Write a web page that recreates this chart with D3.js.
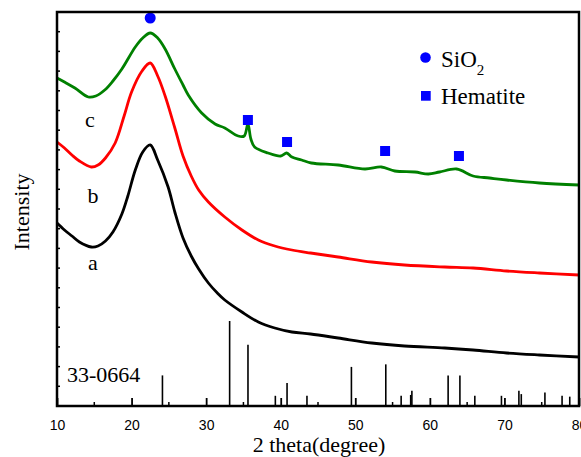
<!DOCTYPE html>
<html lang="en">
<head>
<meta charset="UTF-8">
<title>XRD</title>
<script src="https://d3js.org/d3.v7.min.js"></script>
<style>
  body { margin: 0; background: #fff; }
  svg { display: block; }
  .serif { font-family: "Liberation Serif", "Tinos", "Times New Roman", Times, "DejaVu Serif", serif; }
  .sans { font-family: "Liberation Sans", Arimo, Arial, sans-serif; }
</style>
</head>
<body>
<div id="chart"></div>
<script>
// 2theta (degree), intensity (a.u.)
var curveA = [
  [10,183],[11,176],[12,170],[13,164],[14.6,159],[15.5,160],[16.5,165],[17.5,174],
  [18.7,192],[19.5,210],[20.5,236],[21.5,254],[22.5,261],[23.5,246],[24.9,219],
  [25.8,194],[26.9,168],[28,150],[29,137],[30.3,123],[31.5,113],[32.5,106],
  [34.8,94],[37,84],[39.2,78],[41.5,74],[44,72],[47.7,68],[52.2,63],[56.6,60],
  [62,58],[65.8,56],[70.3,53],[74.7,51],[80,49]
];
var curveB = [
  [10,264],[11,258],[12,251],[13,245],[14.6,239],[15.5,241],[16.5,248],[17.8,263],
  [19,290],[20,314],[21.4,335],[22.5,343],[23.5,330],[24.5,310],[25.8,278],
  [26.9,250],[28,230],[29,216],[30.3,204],[32.5,189],[34.8,176],[37,166],
  [39.2,160],[41.5,156],[44,153],[47.7,149],[52.2,144],[56.6,141],[62,139],
  [65.8,138],[70.3,135],[74.7,133],[80,131]
];
var curveC = [
  [10,328],[11,324],[12.4,318],[14.2,309],[15.2,310],[16.4,316],[17.5,325],[18.7,337],
  [20.5,359],[21.5,368],[22.5,373],[23.5,368],[24.5,357],[25.8,337],[26.9,321],
  [27.6,311],[29.4,293],[31.2,282],[32.5,278],[34.3,270],[35.1,270],[35.6,282],
  [36,267],[36.5,259],[38.3,253],[40,250],[40.8,253],[41.5,249],[42.8,246],
  [44.1,243],[47.7,241],[51.3,237],[53.5,239],[55.3,235],[58,234],[59.8,232],
  [61.3,234],[63.6,237],[65.8,230],[68,228],[70.3,226],[74.7,223],[80,221]
];
var curveNames = ["a", "b", "c"];

// PDF 33-0664 (hematite) stick pattern
var refPos = [24.14,33.15,35.61,39.28,40.85,43.52,49.48,54.09,56.15,57.43,57.59,
              62.45,64.03,66.03,69.6,71.94,72.26,75.43,77.73,78.76];
var refInt = [36,100,72,12,27,12,46,49,12,13,18,36,36,12,12,18,14,16,12,11];

// peak markers on curve c
var sio2Peaks = [[22.5,388]];
var hematitePeaks = [[35.6,286],[40.85,264],[54.0,255],[63.9,250]];

var xTicks = [10,20,30,40,50,60,70,80];
var xMinor = [15,25,35,45,55,65,75];

var width = 581, height = 457;
var margin = {top:12, right:2, bottom:51, left:57};

var svg = d3.select("#chart").append("svg")
    .attr("width", width)
    .attr("height", height);

var x = d3.scaleLinear().domain([10,80]).range([margin.left, width - margin.right]);
var y = d3.scaleLinear().domain([0,394]).range([height - margin.bottom, margin.top]);
// sticks use their own relative scale
var yRef = d3.scaleLinear().domain([0,100]).range([height - margin.bottom, height - margin.bottom - 85]);

// reference sticks
svg.append("g")
    .selectAll("line")
    .data(refPos)
    .enter()
    .append("line")
    .attr("x1", function(d){ return x(d); })
    .attr("x2", function(d){ return x(d); })
    .attr("y1", yRef(0))
    .attr("y2", function(d,i){ return yRef(refInt[i]); })
    .attr("stroke", "#000")
    .attr("stroke-width", 1.6);

// the three patterns
var line = d3.line()
    .x(function(d){ return x(d[0]); })
    .y(function(d){ return y(d[1]); })
    .curve(d3.curveCatmullRom.alpha(0.5));

var curves = [curveA, curveB, curveC];
var colors = ["#000000", "#ff0000", "#008000"];
svg.append("g")
    .selectAll("path")
    .data(curves)
    .enter()
    .append("path")
    .attr("d", line)
    .attr("fill", "none")
    .attr("stroke", function(d,i){ return colors[i]; })
    .attr("stroke-width", 2.8)
    .attr("stroke-linejoin", "round");

// curve letters
var labelPos = [[93,270],[93,203],[90,127]];
svg.append("g")
    .selectAll("text")
    .data(curveNames)
    .enter()
    .append("text")
    .attr("class", "serif")
    .attr("x", function(d,i){ return labelPos[i][0]; })
    .attr("y", function(d,i){ return labelPos[i][1]; })
    .attr("text-anchor", "middle")
    .attr("font-size", 22)
    .text(function(d){ return d; });

svg.append("text")
    .attr("class", "serif")
    .attr("x", 67)
    .attr("y", 382)
    .attr("font-size", 22)
    .text("33-0664");

// markers
svg.append("g")
    .selectAll("circle")
    .data(sio2Peaks)
    .enter()
    .append("circle")
    .attr("cx", function(d){ return x(d[0]); })
    .attr("cy", function(d){ return y(d[1]); })
    .attr("r", 5.5)
    .attr("fill", "#0000ff");

svg.append("g")
    .selectAll("rect")
    .data(hematitePeaks)
    .enter()
    .append("rect")
    .attr("x", function(d){ return x(d[0]) - 5; })
    .attr("y", function(d){ return y(d[1]) - 5; })
    .attr("width", 10)
    .attr("height", 10)
    .attr("fill", "#0000ff");

// legend
svg.append("circle").attr("cx", 425.5).attr("cy", 57.5).attr("r", 5.3).attr("fill", "#0000ff");
var sio2 = svg.append("text")
    .attr("class", "serif")
    .attr("x", 441)
    .attr("y", 67)
    .attr("font-size", 23);
sio2.append("tspan").text("SiO");
sio2.append("tspan").attr("dy", 8).attr("font-size", 15).text("2");

svg.append("rect").attr("x", 421).attr("y", 91).attr("width", 9.7).attr("height", 9.7).attr("fill", "#0000ff");
svg.append("text")
    .attr("class", "serif")
    .attr("x", 441)
    .attr("y", 104)
    .attr("font-size", 23)
    .text("Hematite");

// axes (ticks point inward)
var bottom = height - margin.bottom;
var xAxis = svg.append("g")
    .attr("transform", "translate(0," + bottom + ")")
    .call(d3.axisBottom(x).tickValues(xTicks).tickSize(-8).tickPadding(14).tickFormat(d3.format("d")));
xAxis.select(".domain").remove();
xAxis.selectAll("line").attr("stroke-width", 1.8);
xAxis.selectAll("text")
    .attr("class", "sans")
    .attr("font-size", 14)
    .attr("fill", "#000");
xAxis.attr("font-family", null);

svg.append("g")
    .selectAll("line")
    .data(xMinor)
    .enter()
    .append("line")
    .attr("x1", function(d){ return x(d); })
    .attr("x2", function(d){ return x(d); })
    .attr("y1", bottom)
    .attr("y2", bottom - 4)
    .attr("stroke", "#000")
    .attr("stroke-width", 1.5);

var yTickVals = d3.range(0, 395, 19.7);
svg.append("g")
    .selectAll("line")
    .data(yTickVals)
    .enter()
    .append("line")
    .attr("x1", margin.left)
    .attr("x2", margin.left + 3)
    .attr("y1", function(d){ return y(d); })
    .attr("y2", function(d){ return y(d); })
    .attr("stroke", "#000")
    .attr("stroke-width", 1.5);

// frame
svg.append("rect")
    .attr("x", margin.left)
    .attr("y", margin.top)
    .attr("width", width - margin.left - margin.right)
    .attr("height", bottom - margin.top)
    .attr("fill", "none")
    .attr("stroke", "#000")
    .attr("stroke-width", 2.5);

// axis titles
svg.append("text")
    .attr("class", "serif")
    .attr("x", 319)
    .attr("y", 452)
    .attr("text-anchor", "middle")
    .attr("font-size", 22)
    .text("2 theta(degree)");

svg.append("text")
    .attr("class", "serif")
    .attr("transform", "translate(29,212) rotate(-90)")
    .attr("text-anchor", "middle")
    .attr("font-size", 22)
    .text("Intensity");
</script>
</body>
</html>
